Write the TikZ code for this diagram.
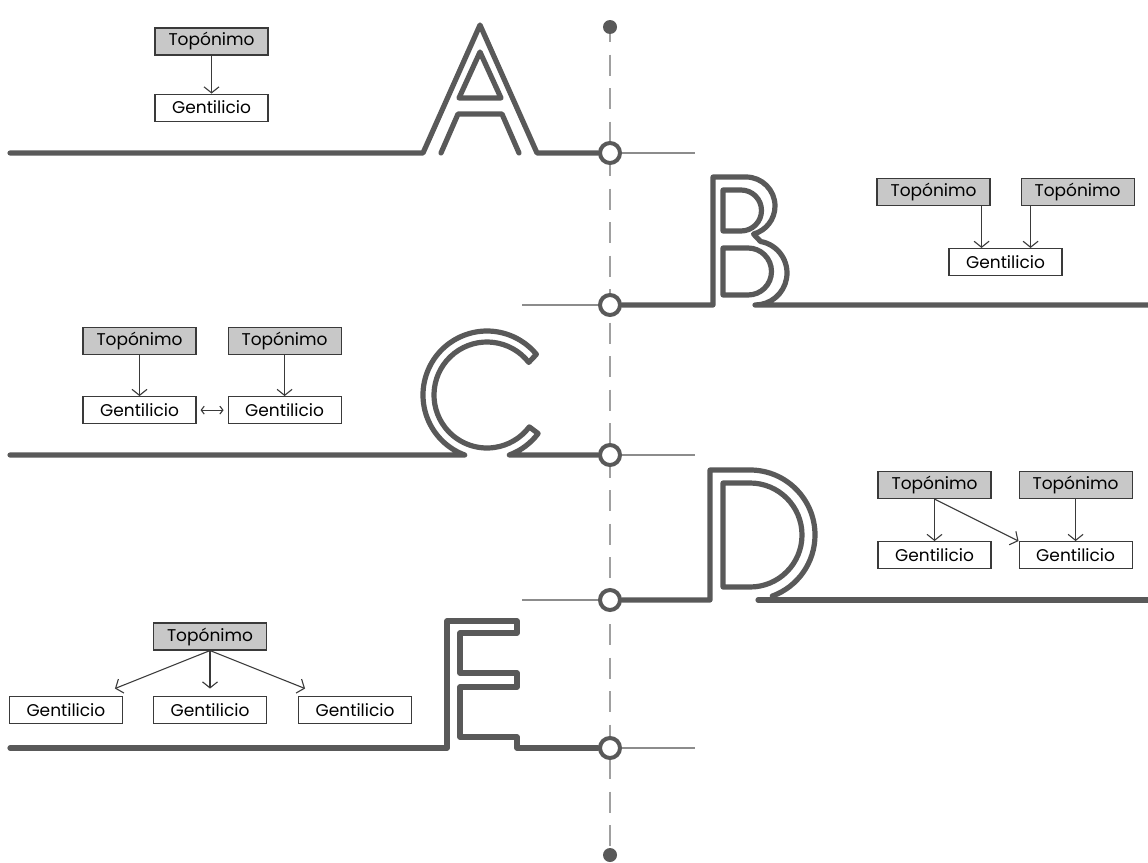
\documentclass[tikz,border=0pt]{standalone}
\usepackage{fontspec}
\newfontfamily\boxfont{Poppins}
\usetikzlibrary{arrows.meta, positioning, calc}
\definecolor{inkgray}{HTML}{595959}
\definecolor{rulegray}{HTML}{8C8C8C}
\definecolor{spinegray}{HTML}{A0A0A0}
\definecolor{boxfill}{HTML}{C8C8C8}
\definecolor{boxline}{HTML}{3A3A3A}
\tikzset{
  letterline/.style={
    line width=5.2pt, draw=inkgray, line cap=round, line join=round
  },
  hairline/.style={line width=1.3pt, draw=rulegray},
  spine/.style={line width=2.2pt, draw=spinegray, dash pattern=on 21pt off 12.5pt, dash phase=13pt},
  joint/.style={
    circle, draw=inkgray, line width=4pt, fill=white,
    minimum size=20pt, inner sep=0pt
  },
  enddot/.style={circle, fill=inkgray, minimum size=14pt, inner sep=0pt},
  toponimo/.style={
    rectangle, draw=boxline, line width=1.1pt, fill=boxfill,
    minimum width=113pt, minimum height=27pt, inner sep=0pt,
    align=center, font=\boxfont\fontsize{17pt}{19pt}\selectfont
  },
  gentilicio/.style={toponimo, fill=white},
  arrow/.style={-{Straight Barb[length=6pt,width=15pt]}, line width=1.1pt, draw=boxline},
  darrow/.style={{Straight Barb[length=3pt,width=8pt]}-{Straight Barb[length=3pt,width=8pt]},
    line width=1.1pt, draw=boxline, shorten >=4pt, shorten <=4pt}
}
\begin{document}
\begin{tikzpicture}[x=1pt, y=-1pt]
  \useasboundingbox (0,0) rectangle (1148,862);

  \node[enddot] (tdot) at (610,27) {};
  \node[enddot] (bdot) at (610,855) {};
  \draw[spine] (tdot) -- (bdot);

  \node[joint] (ja) at (610,153) {};
  \node[joint] (jb) at (610,305) {};
  \node[joint] (jc) at (610,455) {};
  \node[joint] (jd) at (610,600) {};
  \node[joint] (je) at (610,748) {};

  \draw[hairline] (ja) -- (695,153);
  \draw[hairline] (jb) -- (522,305);
  \draw[hairline] (jc) -- (695,455);
  \draw[hairline] (jd) -- (522,600);
  \draw[hairline] (je) -- (695,748);

  % A
  \draw[letterline] (10,153) -- (423,153) -- (480,25) -- (537,153) -- (ja);
  \draw[letterline] (441,153) -- (458,114) -- (502,114) -- (519,153);
  \draw[letterline] (480,52) -- (501,98) -- (459,98) -- cycle;

  % B
  \draw[letterline] (jb) -- (713,305) -- (713,177) -- (746,177)
    arc[start angle=270, end angle=435, radius=29]
    -- ($(755,273)+(280:32)$) arc[start angle=280, end angle=450, radius=32]
    -- (1148,305);
  \draw[letterline] (723,190) -- (741,190)
    arc[start angle=270, end angle=450, radius=20.5] -- (723,231) -- cycle;
  \draw[letterline] (723,248) -- (748,248)
    arc[start angle=270, end angle=450, radius=23.5] -- (723,295) -- cycle;

  % C
  \draw[letterline] (10,455) -- (464.7,455)
    arc[start angle=110.4, end angle=320.5, radius=64]
    -- ($(487,395)+(322:53)$) arc[start angle=322, end angle=37, radius=53]
    -- ($(487,395)+(37:64)$) arc[start angle=37, end angle=69.6, radius=64]
    -- (jc);

  % D
  \draw[letterline] (jd) -- (710,600) -- (710,470) -- (750,470)
    arc[start angle=270, end angle=430, radius=65];
  \draw[letterline] (758,600) -- (1148,600);
  \draw[letterline] (723,483) -- (750,483)
    arc[start angle=270, end angle=450, radius=52] -- (723,587) -- cycle;

  % E
  \draw[letterline] (10,748) -- (447,748) -- (447,621) -- (517,621) -- (517,633)
    -- (460,633) -- (460,673) -- (517,673) -- (517,687) -- (460,687)
    -- (460,737) -- (517,737) -- (517,748) -- (je);

  % boxes
  \node[toponimo] (at) at (211.5,41.5) {Topónimo};
  \node[gentilicio, below=38pt of at] (ag) {Gentilicio};
  \draw[arrow] (at) -- (ag);

  \node[toponimo] (bt1) at (933.5,192) {Topónimo};
  \node[toponimo, right=30pt of bt1] (bt2) {Topónimo};
  \node[gentilicio] (bg) at (1005.5,262) {Gentilicio};
  \draw[arrow] ([xshift=-9pt]bt1.south east) -- ([xshift=-9pt]bt1.south east |- bg.north);
  \draw[arrow] ([xshift=10pt]bt2.south west) -- ([xshift=10pt]bt2.south west |- bg.north);

  \node[toponimo] (ct1) at (139.5,341) {Topónimo};
  \node[toponimo, right=31pt of ct1] (ct2) {Topónimo};
  \node[gentilicio, below=41pt of ct1] (cg1) {Gentilicio};
  \node[gentilicio, below=41pt of ct2] (cg2) {Gentilicio};
  \draw[arrow] (ct1) -- (cg1);
  \draw[arrow] (ct2) -- (cg2);
  \draw[darrow] (cg1) -- (cg2);

  \node[toponimo] (dt1) at (934.5,485) {Topónimo};
  \node[toponimo, right=27pt of dt1] (dt2) {Topónimo};
  \node[gentilicio, below=42pt of dt1] (dg1) {Gentilicio};
  \node[gentilicio, below=42pt of dt2] (dg2) {Gentilicio};
  \draw[arrow] (dt1) -- (dg1);
  \draw[arrow] (dt2) -- (dg2);
  \draw[arrow] (dt1.south) -- (dg2.north west);

  \node[toponimo] (et) at (210,636.5) {Topónimo};
  \node[gentilicio, below=45pt of et] (eg2) {Gentilicio};
  \node[gentilicio, left=30pt of eg2] (eg1) {Gentilicio};
  \node[gentilicio, right=31pt of eg2] (eg3) {Gentilicio};
  \draw[arrow] (et.south) -- ([shift={(-8pt,7pt)}]eg1.north east);
  \draw[arrow] (et.south) -- ([yshift=7pt]eg2.north);
  \draw[arrow] (et.south) -- ([shift={(7pt,7pt)}]eg3.north west);
\end{tikzpicture}
\end{document}
